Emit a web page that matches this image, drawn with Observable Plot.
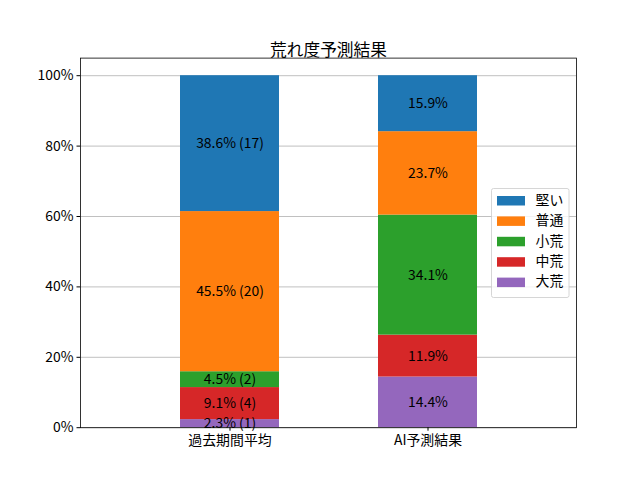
<!DOCTYPE html>
<html>
<head>
<meta charset="utf-8">
<script src="https://cdn.jsdelivr.net/npm/d3@7"></script>
<script src="https://cdn.jsdelivr.net/npm/@observablehq/plot@0.6"></script>
<style>
  html, body { margin: 0; padding: 0; background: #fff; }
  #chart svg { display: block; }
</style>
</head>
<body>
<div id="chart"></div>
<script>
const title = "荒れ度予測結果";
const categories = ["過去期間平均", "AI予測結果"];
const levels = ["大荒", "中荒", "小荒", "普通", "堅い"]; // bottom -> top
const legendOrder = ["堅い", "普通", "小荒", "中荒", "大荒"];
const colors = ["#9467bd", "#d62728", "#2ca02c", "#ff7f0e", "#1f77b4"];
const pastPct = [2.3, 9.1, 4.5, 45.5, 38.6];
const pastCount = [1, 4, 2, 20, 17];
const aiPct = [14.4, 11.9, 34.1, 23.7, 15.9];
const yTicks = [0, 20, 40, 60, 80, 100];

const rows = [];
levels.forEach((lv, i) => {
  rows.push({cat: categories[0], level: lv, pct: pastPct[i], label: `${pastPct[i].toFixed(1)}% (${pastCount[i]})`});
});
levels.forEach((lv, i) => {
  rows.push({cat: categories[1], level: lv, pct: aiPct[i], label: `${aiPct[i].toFixed(1)}%`});
});

const font = "'Noto Sans CJK JP', 'Noto Sans', sans-serif";
const fs = 13.9;

const chart = Plot.plot({
  width: 640,
  height: 480,
  marginLeft: 80,
  marginRight: 64,
  marginTop: 57.6,
  marginBottom: 52.8,
  style: {fontFamily: font, fontSize: fs + "px", color: "#000", background: "#fff"},
  x: {domain: categories, padding: 0.5, label: null},
  y: {domain: [0, 105], label: null},
  color: {domain: levels, range: colors},
  marks: [
    Plot.gridY(yTicks, {stroke: "#b0b0b0", strokeOpacity: 1, strokeWidth: 0.8}),
    Plot.barY(rows, {x: "cat", y: "pct", fill: "level", order: levels, inset: 0}),
    Plot.text(rows, Plot.stackY({x: "cat", y: "pct", z: "level", order: levels, text: "label", fill: "#000", fontSize: fs})),
    Plot.axisY(yTicks, {tickFormat: d => d + "%", tickSize: 3.5, tickPadding: 3.5, fontSize: fs, label: null, stroke: "#000"}),
    Plot.axisX({tickSize: 3.5, tickPadding: 3.5, fontSize: fs, label: null}),
    Plot.frame({stroke: "#000", strokeWidth: 0.8}),
    Plot.text([title], {frameAnchor: "top", dy: -14, fontSize: 16.7, fill: "#000"})
  ]
});

document.getElementById("chart").appendChild(chart);

// Legend inside the plot area (center right)
const svg = d3.select(chart);
const colorScale = chart.scale("color");
const lx = 491.5, ly = 188.5, lw = 77.5, lh = 109;
const g = svg.append("g").attr("font-family", font).attr("font-size", fs).attr("text-anchor", "start");
g.append("rect").attr("x", lx).attr("y", ly).attr("width", lw).attr("height", lh)
  .attr("rx", 2).attr("fill", "#fff").attr("fill-opacity", 0.8).attr("stroke", "#cccccc").attr("stroke-width", 0.8);
legendOrder.forEach((lv, i) => {
  const cy = ly + 11.5 + i * 20.4;
  g.append("rect").attr("x", lx + 5.5).attr("y", cy - 4).attr("width", 28).attr("height", 9.5)
    .attr("fill", colorScale.apply(lv));
  g.append("text").attr("x", lx + 44).attr("y", cy).attr("dy", "0.35em")
    .attr("text-anchor", "start").attr("fill", "#000").text(lv);
});
</script>
</body>
</html>
